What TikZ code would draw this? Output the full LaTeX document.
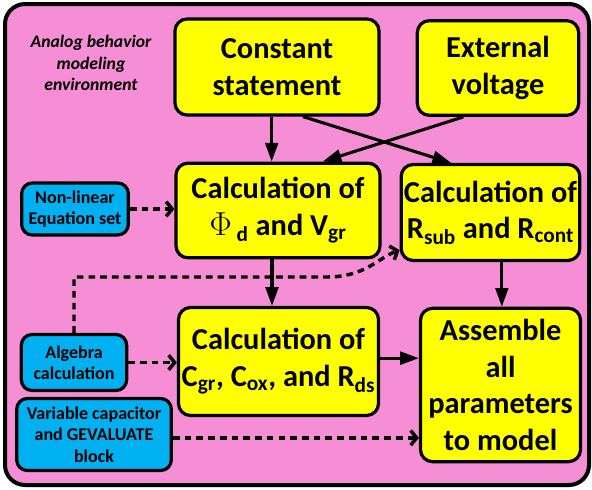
\documentclass[tikz,border=0pt]{standalone}
\usepackage{fontspec}
\setmainfont{Carlito}
\usetikzlibrary{arrows.meta}
\definecolor{envpink}{RGB}{245,142,212}
\definecolor{calcyellow}{RGB}{255,255,0}
\definecolor{toolblue}{RGB}{0,176,240}

\begin{document}
\begin{tikzpicture}[
    x=0.75pt, y=-0.75pt,
    box/.style={rectangle, draw, line width=2.4pt, rounded corners=9pt,
                align=center, inner sep=2pt},
    calcbox/.style={box, fill=calcyellow, font=\bfseries\fontsize{22.8}{27.5}\selectfont},
    toolbox/.style={box, fill=toolblue, rounded corners=8pt,
                    font=\bfseries\fontsize{13.5}{16}\selectfont},
    arrow/.style={-{Triangle[length=14pt,width=9.5pt]}, line width=2.3pt},
    dasharrow/.style={-{Straight Barb[length=4.5pt,width=11pt]}, line width=2.6pt,
                      dash pattern=on 5pt off 3.8pt}
  ]
    \useasboundingbox (0,0) rectangle (592,489);
    \draw[line width=3pt, fill=envpink, rounded corners=15pt] (5,4) rectangle (589,485);
    \node[font=\bfseries\itshape\fontsize{13.2}{16}\selectfont, align=center] (env) at (91,63)
      {Analog behavior\\modeling\\environment};

    \node[calcbox, minimum width=153pt, minimum height=72pt] (const) at (277,67) {Constant\\statement};
    \node[calcbox, minimum width=121pt, minimum height=71pt] (ext) at (498,68) {External\\voltage};
    \node[calcbox, minimum width=153pt, minimum height=71pt] (phi) at (278,210.5)
      {Calculation of\\{\fontsize{26}{27.5}\selectfont$\Phi$}\,\textsubscript{d} and V\textsubscript{gr}};
    \node[calcbox, minimum width=134pt, minimum height=72pt] (rsub) at (490.5,212.5)
      {Calculation of\\R\textsubscript{sub} and R\textsubscript{cont}};
    \node[calcbox, minimum width=150pt, minimum height=81pt] (cgr) at (278.5,361.5)
      {Calculation of\\C\textsubscript{gr}, C\textsubscript{ox}, and R\textsubscript{ds}};
    \node[calcbox, minimum width=120pt, minimum height=115pt] (asm) at (500.5,385)
      {Assemble\\all\\parameters\\to model};

    \node[toolbox, minimum width=80pt, minimum height=39pt] (nonlin) at (75,209) {Non-linear\\Equation set};
    \node[toolbox, minimum width=79pt, minimum height=42pt] (alg) at (74,362.5) {Algebra\\calculation};
    \node[toolbox, minimum width=116pt, minimum height=54pt] (var) at (94,434.5)
      {Variable capacitor\\and GEVALUATE\\block};

    \draw[arrow] ([xshift=-4pt]const.south) -- ([xshift=-4pt]const.south |- phi.north);
    \draw[arrow] ([xshift=19.5pt]const.south) -- ([xshift=-29.5pt]rsub.north);
    \draw[arrow] ([xshift=-26pt]ext.south) -- ([xshift=33.5pt]phi.north);
    \draw[arrow] ([xshift=-4.5pt]phi.south) -- ([xshift=-4.5pt]phi.south |- cgr.north);
    \draw[arrow] ([xshift=8.5pt]rsub.south) -- ([xshift=8.5pt]rsub.south |- asm.north);
    \draw[arrow] ([yshift=2.5pt]cgr.east) -- ([yshift=2.5pt]cgr.east -| asm.west);

    \foreach \a/\b in {nonlin/phi, alg/cgr}
      \draw[dasharrow] (\a.east) -- (\a.east -| \b.west);
    \draw[dasharrow] ([yshift=-2.5pt]var.east) -- ([yshift=-2.5pt]var.east -| asm.west);
    \draw[dasharrow] (alg.north) |- (327,277) .. controls (365,277) and (378,258) .. ([yshift=9pt]rsub.south west);
  \end{tikzpicture}
\end{document}
